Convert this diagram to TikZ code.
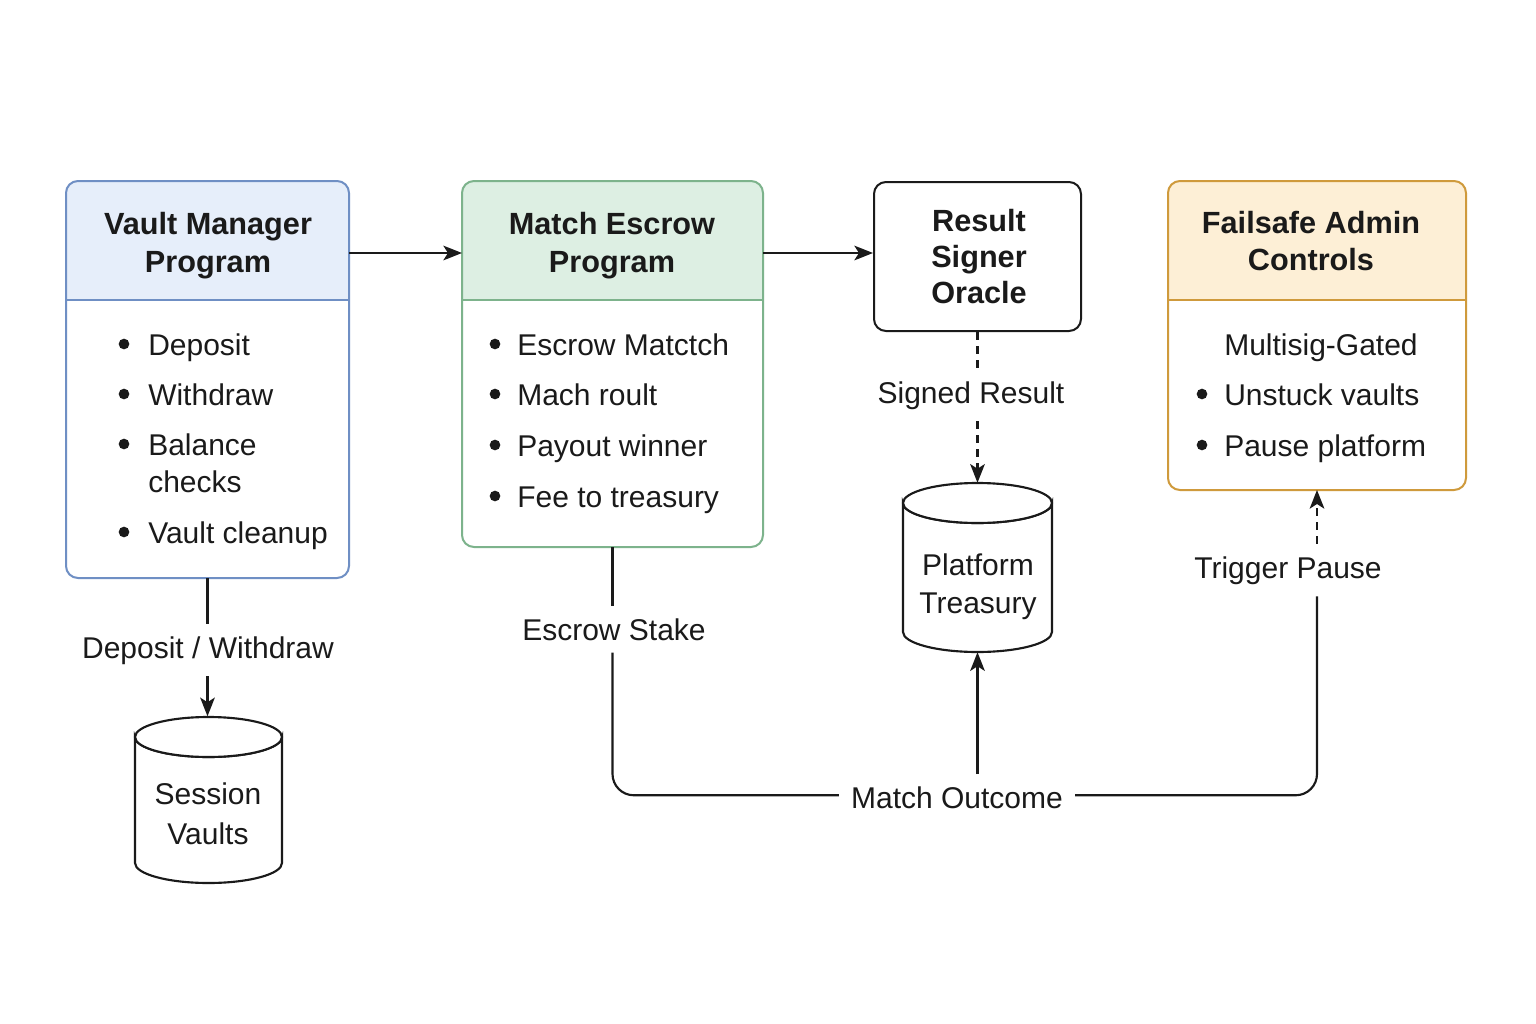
\documentclass[tikz,border=0pt]{standalone}
\usepackage{fontspec}
\setmainfont{Liberation Sans}
\usetikzlibrary{arrows.meta}
\definecolor{ink}{HTML}{1A1A1A}
\definecolor{bluehead}{HTML}{E6EEFA}
\definecolor{blueline}{HTML}{6F8FC4}
\definecolor{greenhead}{HTML}{DDEFE3}
\definecolor{greenline}{HTML}{7DB38C}
\definecolor{orangehead}{HTML}{FDEFD6}
\definecolor{orangeline}{HTML}{CF9A3C}
\begin{document}
\begin{tikzpicture}[x=0.75pt,y=-0.75pt,
  font=\fontsize{22.5}{27}\selectfont, text=ink,
  box/.style={rounded corners=9pt, line width=1.5pt, inner sep=0pt},
  ttl/.style={font=\fontsize{23}{28}\selectfont\bfseries, anchor=base, inner sep=0pt},
  itm/.style={anchor=base west, inner sep=0pt},
  bul/.style={circle, fill=ink, inner sep=0pt, minimum size=8pt},
  lbl/.style={anchor=base, inner sep=9pt},
  conn/.style={line width=1.6pt, draw=ink},
  arr/.style={conn, -{Stealth[length=14pt,width=11pt,inset=3.5pt]}},
  dsh/.style={dash pattern=on 6pt off 4.5pt},
  cyl/.style={line width=1.6pt, draw=ink, fill=white}
]
\useasboundingbox (0,0) rectangle (1536,1024);
\fill[white] (0,0) rectangle (1536,1024);

% ---- Vault Manager
\node[box, minimum width=210.75pt, minimum height=296.25pt] (vm) at (207.5,379.5) {};
\begin{scope}
\clip[rounded corners=9pt] (vm.north west) rectangle (vm.south east);
\fill[bluehead] (vm.north west) rectangle (348,300);
\end{scope}
\draw[box, draw=blueline] (vm.north west) rectangle (vm.south east);
\draw[line width=1.5pt, blueline] (67,300) -- (348,300);
\node[ttl] (vmt1) at (208,234) {Vault Manager};
\node[ttl] (vmt2) at (208,272) {Program};
\node[bul] (vmb1) at (124,344) {}; \node[itm] (vmi1) at (148,355) {Deposit};
\node[bul] (vmb2) at (124,394) {}; \node[itm] (vmi2) at (148,405) {Withdraw};
\node[bul] (vmb3) at (124,444) {}; \node[itm] (vmi3) at (148,455) {Balance};
\node[itm] (vmi3b) at (148,492) {checks};
\node[bul] (vmb4) at (124,532) {}; \node[itm] (vmi4) at (148,543) {Vault cleanup};

% ---- Match Escrow
\node[box, minimum width=224.25pt, minimum height=273pt] (me) at (612.5,364) {};
\begin{scope}
\clip[rounded corners=9pt] (me.north west) rectangle (me.south east);
\fill[greenhead] (me.north west) rectangle (762,300);
\end{scope}
\draw[box, draw=greenline] (me.north west) rectangle (me.south east);
\draw[line width=1.5pt, greenline] (463,300) -- (762,300);
\node[ttl] (met1) at (612,234) {Match Escrow};
\node[ttl] (met2) at (612,272) {Program};
\node[bul] (meb1) at (495,344) {}; \node[itm] (mei1) at (517,355) {Escrow Matctch};
\node[bul] (meb2) at (495,394) {}; \node[itm] (mei2) at (517,405) {Mach roult};
\node[bul] (meb3) at (495,445) {}; \node[itm] (mei3) at (517,456) {Payout winner};
\node[bul] (meb4) at (495,496) {}; \node[itm] (mei4) at (517,507) {Fee to treasury};

% ---- Result Signer Oracle
\node[box, draw=ink, minimum width=155.25pt, minimum height=111.75pt] (rso) at (977.5,256.5) {};
\node[ttl] (rsot1) at (979,231) {Result};
\node[ttl] (rsot2) at (979,267) {Signer};
\node[ttl] (rsot3) at (979,303) {Oracle};

% ---- Failsafe Admin Controls
\node[box, minimum width=222pt, minimum height=230.25pt] (fs) at (1317,335.5) {};
\begin{scope}
\clip[rounded corners=9pt] (fs.north west) rectangle (fs.south east);
\fill[orangehead] (fs.north west) rectangle (1465,300);
\end{scope}
\draw[box, draw=orangeline] (fs.north west) rectangle (fs.south east);
\draw[line width=1.5pt, orangeline] (1169,300) -- (1465,300);
\node[ttl] (fst1) at (1311,233) {Failsafe Admin};
\node[ttl] (fst2) at (1311,270) {Controls};
\node[itm] (fsi0) at (1224,355) {Multisig-Gated};
\node[bul] (fsb1) at (1202,394) {}; \node[itm] (fsi1) at (1224,405) {Unstuck vaults};
\node[bul] (fsb2) at (1202,445) {}; \node[itm] (fsi2) at (1224,456) {Pause platform};

% ---- Cylinders
\node[minimum width=111.75pt, minimum height=126.75pt, inner sep=0pt] (tr) at (977.5,567.5) {};
\draw[cyl] (903,503) -- (903,632) arc[start angle=180, end angle=0, x radius=74.5, y radius=20] -- (1052,503) arc[start angle=0, end angle=180, x radius=74.5, y radius=20] -- cycle;
\draw[cyl] (977.5,503) ellipse[x radius=74.5, y radius=20];
\node[anchor=base, inner sep=0pt] (trt1) at (978,575) {Platform};
\node[anchor=base, inner sep=0pt] (trt2) at (978,613) {Treasury};

\node[minimum width=109.5pt, minimum height=125.25pt, inner sep=0pt] (sv) at (208,800) {};
\draw[cyl] (135,737) -- (135,863) arc[start angle=180, end angle=0, x radius=73.5, y radius=20] -- (282,737) arc[start angle=0, end angle=180, x radius=73.5, y radius=20] -- cycle;
\draw[cyl] (208.5,737) ellipse[x radius=73.5, y radius=20];
\node[anchor=base, inner sep=0pt] (svt1) at (208,804) {Session};
\node[anchor=base, inner sep=0pt] (svt2) at (208,844) {Vaults};

% ---- Labels
\node[lbl] (dw) at (208,658) {Deposit / Withdraw};
\node[lbl] (sr) at (971,403) {Signed Result};
\node[lbl] (es) at (614,640) {Escrow Stake};
\node[lbl] (mo) at (957,808) {Match Outcome};
\node[lbl] (tp) at (1288,578) {Trigger Pause};

% ---- Connectors
\draw[arr] ([yshift=-54pt]vm.north east) -- ([yshift=-54pt]me.north west);
\draw[arr] ([yshift=-54pt]me.north east) -- ([yshift=-54pt]rso.north west);
\draw[conn] (vm.south) -- (vm.south |- dw.north);
\draw[arr] (vm.south |- dw.south) -- (vm.south |- sv.north);
\draw[conn, dsh] (rso.south) -- (rso.south |- sr.north);
\draw[arr, dsh] (rso.south |- sr.south) -- (tr.north);
\draw[conn] (me.south) -- (me.south |- es.north);
\draw[conn, rounded corners=16pt] (me.south |- es.south) |- ([yshift=1.5pt]mo.west);
\draw[conn, rounded corners=16pt] ([yshift=1.5pt]mo.east) -| (fs.south |- tp.south);
\draw[arr, dsh] (fs.south |- tp.north) -- (fs.south);
\draw[arr] (tr.south |- mo.north) -- (tr.south);
\end{tikzpicture}
\end{document}
